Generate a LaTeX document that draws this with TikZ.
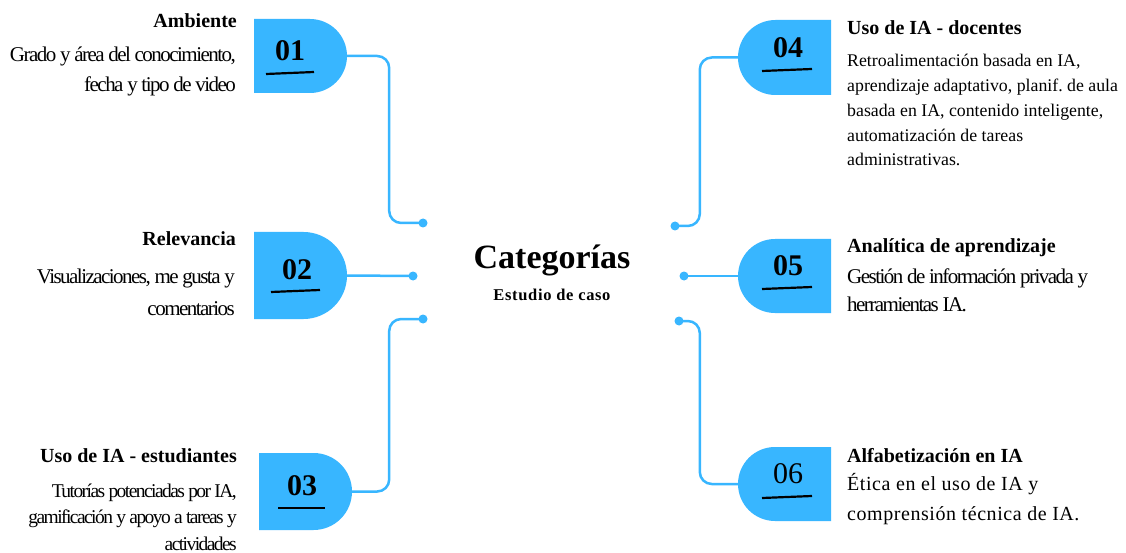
\documentclass[tikz,border=0pt]{standalone}
\usepackage{fontspec}
\setmainfont{Liberation Serif}
\newfontfamily\tightserif[LetterSpace=-7.3]{Liberation Serif}
\newfontfamily\tighterserif[LetterSpace=-8]{Liberation Serif}
\newfontfamily\wideserif[LetterSpace=4]{Liberation Serif}
\newfontfamily\openserif[LetterSpace=2.8]{Liberation Serif}
\usetikzlibrary{shapes.misc}
\definecolor{skyblue}{HTML}{38B6FF}
\tikzset{
  tab/.style={rounded rectangle, fill=skyblue, draw=none, inner sep=0pt, minimum width=93pt},
  tabR/.style={tab, rounded rectangle left arc=none},
  tabL/.style={tab, rounded rectangle right arc=none},
  num/.style={inner sep=0pt, anchor=base, font=\fontsize{30}{30}\selectfont\bfseries},
  uline/.style={draw=black, line width=2.2pt},
  conn/.style={draw=skyblue, line width=2.5pt, rounded corners=12pt},
  dot/.style={circle, fill=skyblue, inner sep=0pt, minimum size=9pt},
  ttlL/.style={inner sep=0pt, anchor=base east, font=\fontsize{20}{24}\selectfont\bfseries},
  ttlR/.style={inner sep=0pt, anchor=base west, font=\fontsize{20}{24}\selectfont\bfseries},
  % multi-line blocks: the base anchor sits on the last line
  bodyL/.style={inner sep=0pt, anchor=base east, align=right},
  bodyR/.style={inner sep=0pt, anchor=base west, align=left},
}
\begin{document}
\frenchspacing
\begin{tikzpicture}[x=1pt, y=-1pt]
\useasboundingbox[fill=white] (0,0) rectangle (1126,553);

% central heading
\node[inner sep=0pt, anchor=base, font=\fontsize{34}{34}\selectfont\bfseries] (title) at (552,268) {Categorías};
\node[inner sep=0pt, anchor=base, font=\wideserif\fontsize{16.5}{16.5}\selectfont\bfseries] (subtitle) at (552,300) {Estudio de caso};

% left tabs
\node[tabR, minimum height=74pt] (s1) at (300.5,56) {};
\node[tabR, minimum height=87pt] (s2) at (300.5,275.5) {};
\node[tabR, minimum height=77pt] (s3) at (305.5,491.5) {};
% right tabs
\node[tabL, minimum height=75pt] (s4) at (784.5,57.5) {};
\node[tabL, minimum height=74pt] (s5) at (784.5,276) {};
\node[tabL, minimum height=74pt] (s6) at (784.5,484) {};

% numbers with their underlines
\node[num] (n1) at (290,61) {01};
\draw[uline] (266,74) -- (314,72);
\node[num] (n2) at (297,279) {02};
\draw[uline] (271,292) -- (320,290);
\node[num] (n3) at (302,495) {03};
\draw[uline] (278,508) -- (325,508);
\node[num] (n4) at (788,58) {04};
\draw[uline] (762,71) -- (812,69);
\node[num] (n5) at (788,275) {05};
\draw[uline] (762,289) -- (812,287);
\node[num, font=\fontsize{30}{30}\selectfont] (n6) at (788,483) {06};
\draw[uline] (762,498) -- (812,496);

% end dots
\node[dot] (d1) at (423,223) {};
\node[dot] (d2) at (413,276) {};
\node[dot] (d3) at (423,319) {};
\node[dot] (d4) at (675,226) {};
\node[dot] (d5) at (684,276) {};
\node[dot] (d6) at (679,321) {};

% connectors
\draw[conn] (s1.east) -- ([xshift=42pt]s1.east) |- (d1.center);
\draw[conn] (s2.east) -- (d2.center);
\draw[conn] (s3.east) -- ([xshift=37pt]s3.east) |- (d3.center);
\draw[conn] (s4.west) -- ([xshift=-38pt]s4.west) |- (d4.center);
\draw[conn] (s5.west) -- (d5.center);
\draw[conn] (s6.west) -- ([xshift=-38pt]s6.west) |- (d6.center);

% left captions
\node[ttlL] (t1) at (237,28) {Ambiente};
\node[bodyL, font=\tightserif\fontsize{21}{30}\selectfont] (b1) at (236,92)
  {Grado y área del conocimiento,\\ fecha y tipo de video~};
\node[ttlL] (t2) at (236,246) {Relevancia};
\node[bodyL, font=\tightserif\fontsize{21}{32}\selectfont] (b2) at (235,315)
  {Visualizaciones, me gusta y\\ comentarios};
\node[ttlL] (t3) at (237,462) {Uso de IA - estudiantes};
\node[bodyL, font=\tighterserif\fontsize{19.5}{26.5}\selectfont] (b3) at (237,550)
  {Tutorías potenciadas por IA,\\ gamificación y apoyo a tareas y\\ actividades};

% right captions
\node[ttlR] (t4) at (847,35) {Uso de IA - docentes};
\node[bodyR, font=\fontsize{17.8}{24.8}\selectfont] (b4) at (847,166)
  {Retroalimentación basada en IA,\\ aprendizaje adaptativo, planif. de aula\\ basada en IA, contenido inteligente,\\ automatización de tareas\\ administrativas.};
\node[ttlR] (t5) at (847,253) {Analítica de aprendizaje};
\node[bodyR, font=\tightserif\fontsize{21}{28}\selectfont] (b5) at (847,311)
  {Gestión de información privada y\\ herramientas IA.};
\node[ttlR] (t6) at (847,462) {Alfabetización en IA};
\node[bodyR, font=\openserif\fontsize{20}{30}\selectfont] (b6) at (847,520)
  {Ética en el uso de IA y\\ comprensión técnica de IA.};
\end{tikzpicture}
\end{document}
